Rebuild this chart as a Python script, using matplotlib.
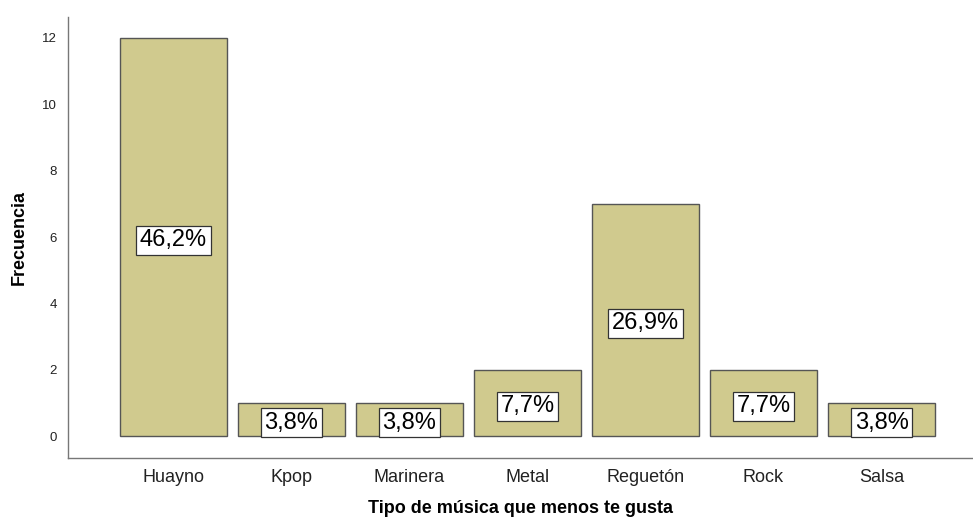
import numpy as np
import matplotlib.pyplot as plt

plt.rcParams['font.family'] = ['Liberation Sans', 'DejaVu Sans']

categorias = ['Huayno', 'Kpop', 'Marinera', 'Metal', 'Reguetón', 'Rock', 'Salsa']
frecuencia = [12, 1, 1, 2, 7, 2, 1]
porcentaje = ['46,2%', '3,8%', '3,8%', '7,7%', '26,9%', '7,7%', '3,8%']

fig = plt.figure(figsize=(9.73, 5.21), dpi=100)
ax = fig.add_axes([68/973, 1-458/521, 1-68/973, (458-17)/521])

x = np.arange(len(categorias))
ax.bar(x, frecuencia, width=0.907, color='#d0ca8e', edgecolor='#555555', linewidth=1.0)

for xi, v, p in zip(x, frecuencia, porcentaje):
    ax.text(xi, v/2 - 0.1, p, ha='center', va='center', fontsize=17, color='black',
            bbox=dict(boxstyle='square,pad=0.15', facecolor='white', edgecolor='#333333', linewidth=0.9))

ax.set_xlim(-0.894, 6.775)
ax.set_ylim(-0.66, 12.63)
ax.set_yticks([0, 2, 4, 6, 8, 10, 12])
ax.set_xticks(x)
ax.set_xticklabels(categorias, fontsize=13, color='#222222')
ax.tick_params(axis='y', length=0, labelsize=9.5, pad=8, colors='#222222')
ax.tick_params(axis='x', length=0, pad=8)

for s in ['top', 'right']:
    ax.spines[s].set_visible(False)
for s in ['left', 'bottom']:
    ax.spines[s].set_color('#777777')
    ax.spines[s].set_linewidth(1.0)

ax.set_ylabel('Frecuencia', fontsize=13, fontweight='bold', labelpad=10)
ax.set_xlabel('Tipo de música que menos te gusta', fontsize=13, fontweight='bold', labelpad=10)

fig.savefig('out.png', dpi=100)
